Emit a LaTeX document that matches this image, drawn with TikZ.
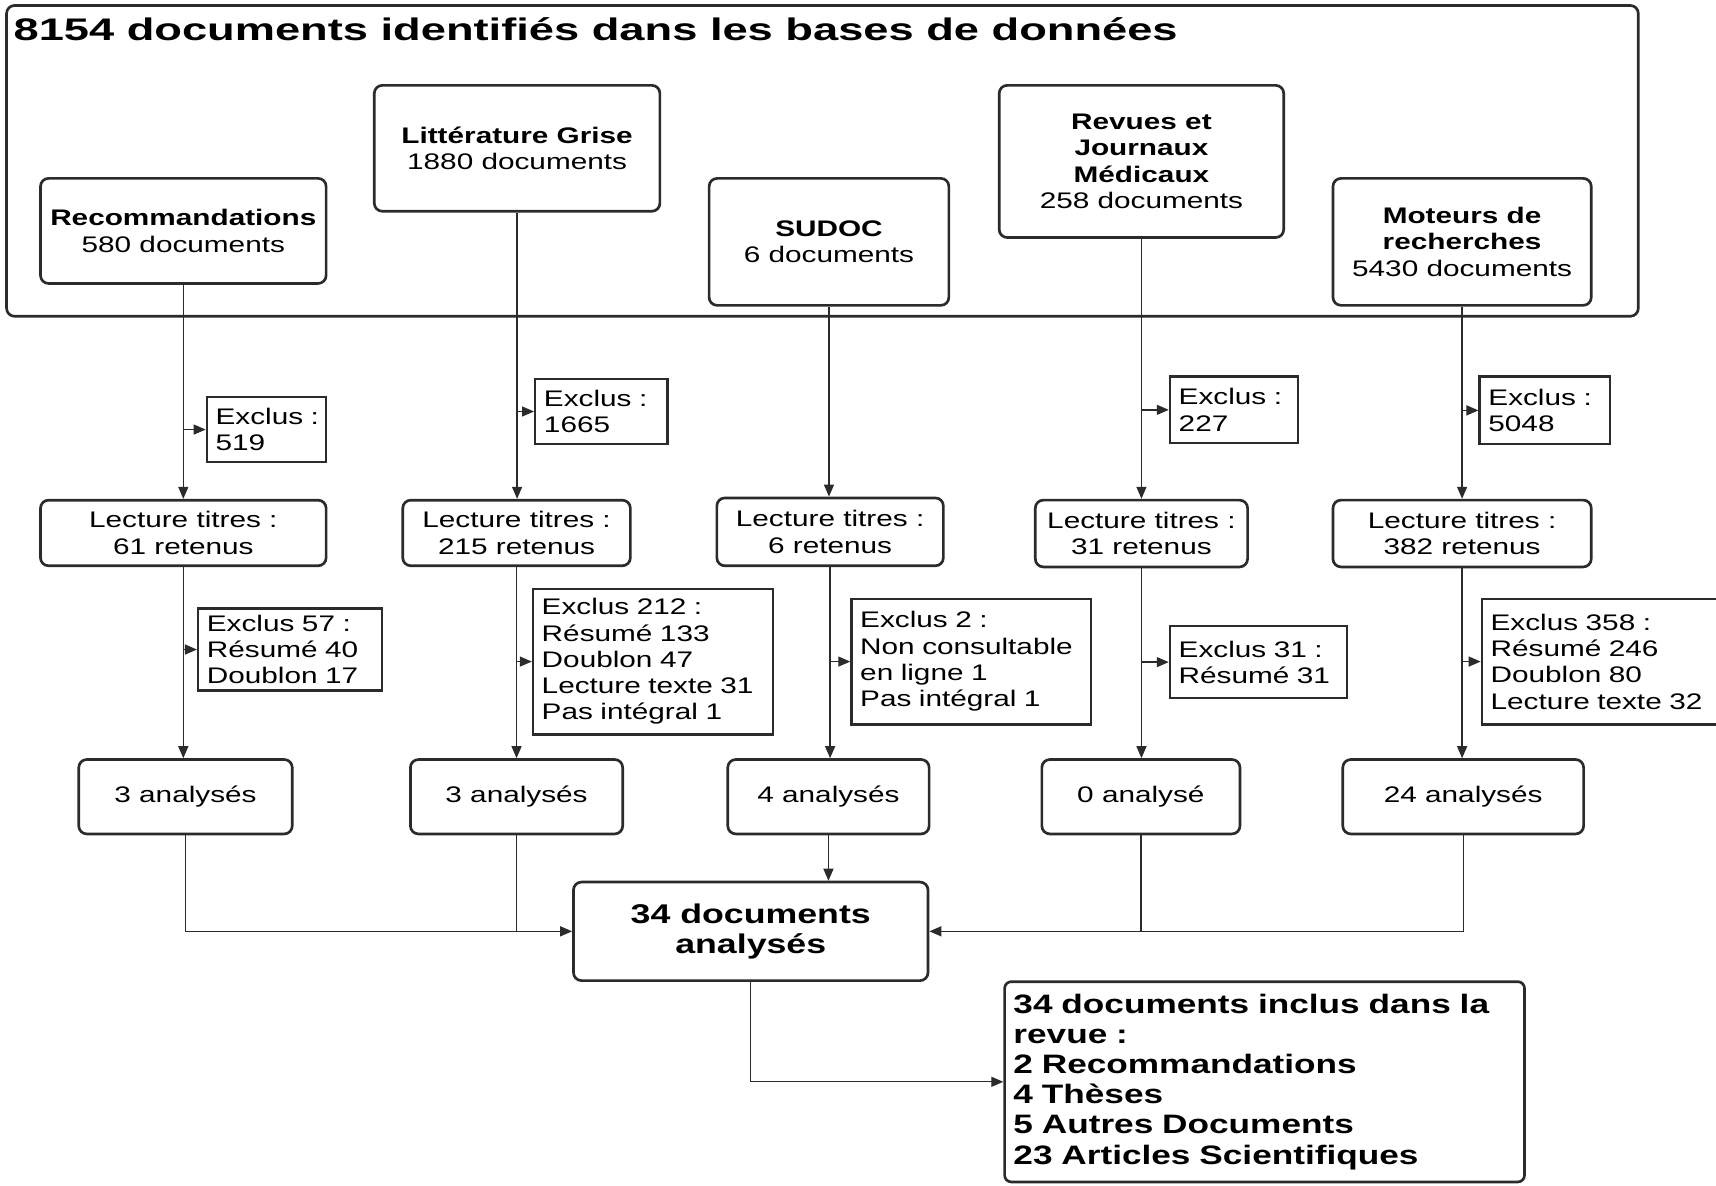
\documentclass[tikz,border=0pt]{standalone}
\usepackage{fontspec}
\setmainfont{Liberation Sans}[FakeStretch=1.32]
\newfontfamily\titrefont{Liberation Sans}[FakeStretch=1.45]
\usetikzlibrary{arrows.meta}

\definecolor{trait}{HTML}{2B2B2B}
\newcommand{\corps}{\fontsize{16.9}{19.7}\selectfont}

\tikzset{every picture/.style={line width=0.75pt}}
\tikzset{
  boite/.style={draw=trait, line width=2pt, rounded corners=6pt, align=center, inner sep=0pt, font=\corps},
  exclu/.style={draw=trait, line width=1.7pt, align=left, inner xsep=6.6pt, inner ysep=0pt, font=\corps},
  ligne/.style={draw=trait, line width=1pt},
  fleche/.style={ligne, -{Triangle[length=9pt,width=7.5pt]}}
}

\begin{document}
\begin{tikzpicture}[x=0.8208pt,y=0.8208pt,yscale=-1,xscale=1]
\useasboundingbox (0,0) rectangle (1568,1083);
\clip (0,0) rectangle (1568,1083);

%Outer box
\node [boite, minimum width=1223.8pt, minimum height=233.1pt] (bases) at (751.5,147) {};
% Text Node
\node [anchor=base west, inner sep=0pt, font=\titrefont\bfseries\fontsize{23.4}{26}\selectfont] (titre) at (12,37) {8154 documents identifiés dans les bases de données};

%Sources
\node [boite, minimum width=214.2pt, minimum height=78.8pt] (rec) at (167.5,211) {\textbf{Recommandations}\\580 documents};
\node [boite, minimum width=214.2pt, minimum height=94.4pt] (lit) at (472.5,135.5) {\textbf{Littérature Grise}\\1880 documents};
\node [boite, minimum width=179.8pt, minimum height=95.2pt] (sud) at (757.5,221) {\textbf{SUDOC}\\6 documents};
\node [boite, minimum width=213.4pt, minimum height=114.1pt] (rev) at (1043,147.5) {\textbf{Revues et}\\\textbf{Journaux}\\\textbf{Médicaux}\\258 documents};
\node [boite, minimum width=193.7pt, minimum height=95.2pt] (mot) at (1336,221) {\textbf{Moteurs de}\\\textbf{recherches}\\5430 documents};

%Exclus (titres)
\node [exclu, text width=76.3pt, minimum height=48.4pt] (exT1) at (243.5,392.5) {Exclus~:\\519};
\node [exclu, text width=86.1pt, minimum height=49.2pt] (exT2) at (549.5,376) {Exclus~:\\1665};
\node [exclu, text width=82.8pt, minimum height=50.1pt] (exT4) at (1127.5,374.5) {Exclus~:\\227};
\node [exclu, text width=84.5pt, minimum height=50.9pt] (exT5) at (1411.5,375) {Exclus~:\\5048};

%Lecture titres
\node [boite, minimum width=214.2pt, minimum height=49.2pt] (lec1) at (167.5,487) {Lecture titres~:\\61 retenus};
\node [boite, minimum width=170.7pt, minimum height=49.2pt] (lec2) at (472,487) {Lecture titres~:\\215 retenus};
\node [boite, minimum width=169.9pt, minimum height=50.9pt] (lec3) at (758.5,486) {Lecture titres~:\\6 retenus};
\node [boite, minimum width=159.2pt, minimum height=50.1pt] (lec4) at (1043,487.5) {Lecture titres~:\\31 retenus};
\node [boite, minimum width=193.7pt, minimum height=50.1pt] (lec5) at (1336,487.5) {Lecture titres~:\\382 retenus};

%Exclus (resumes)
\node [exclu, text width=124.7pt, minimum height=61.6pt] (exR1) at (265,593.5) {Exclus 57~:\\Résumé 40\\Doublon 17};
\node [exclu, text width=166.6pt, minimum height=109.2pt] (exR2) at (596.5,604.5) {Exclus 212~:\\Résumé 133\\Doublon 47\\Lecture texte 31\\Pas intégral 1};
\node [exclu, text width=166.6pt, minimum height=94.4pt] (exR3) at (887.5,604.5) {Exclus 2~:\\Non consultable\\en ligne 1\\Pas intégral 1\\[6pt]};
\node [exclu, text width=119.8pt, minimum height=54.2pt] (exR4) at (1150,605) {Exclus 31~:\\Résumé 31\\[6pt]};
\node [exclu, text width=192pt, minimum height=94.4pt] (exR5) at (1479,604.5) {Exclus 358~:\\Résumé 246\\Doublon 80\\Lecture texte 32\\[6pt]};

%Analyses
\node [boite, minimum width=160.1pt, minimum height=55.8pt] (an1) at (169.5,728) {3 analysés};
\node [boite, minimum width=159.2pt, minimum height=55.8pt] (an2) at (472,728) {3 analysés};
\node [boite, minimum width=151.0pt, minimum height=55.8pt] (an3) at (757,728) {4 analysés};
\node [boite, minimum width=148.6pt, minimum height=55.8pt] (an4) at (1042.5,728) {0 analysé};
\node [boite, minimum width=180.6pt, minimum height=55.8pt] (an5) at (1337,728) {24 analysés};

%Total
\node [boite, minimum width=265.9pt, minimum height=73.9pt, font=\bfseries\fontsize{20.3}{22.2}\selectfont] (cen) at (686,851) {34 documents\\analysés};
\node [boite, rounded corners=5pt, align=left, inner xsep=6.6pt, text width=376.7pt, minimum height=150.2pt, font=\bfseries\fontsize{20}{22.6}\selectfont] (fin) at (1155.5,988.5) {34 documents inclus dans la\\revue~:\\2 Recommandations\\4 Thèses\\5 Autres Documents\\23 Articles Scientifiques};

%Straight Lines
\draw [fleche] (rec.south) -- (rec.south |- lec1.north);
\draw [fleche] (rec.south |- exT1.west) -- (exT1.west);
\draw [fleche] (lit.south) -- (lit.south |- lec2.north);
\draw [fleche] (lit.south |- exT2.west) -- (exT2.west);
\draw [fleche] (sud.south) -- (sud.south |- lec3.north);
\draw [fleche] (rev.south) -- (rev.south |- lec4.north);
\draw [fleche] (rev.south |- exT4.west) -- (exT4.west);
\draw [fleche] (mot.south) -- (mot.south |- lec5.north);
\draw [fleche] (mot.south |- exT5.west) -- (exT5.west);

\draw [fleche] (lec1.south) -- (lec1.south |- an1.north);
\draw [fleche] (lec1.south |- exR1.west) -- (exR1.west);
\draw [fleche] (lec2.south) -- (lec2.south |- an2.north);
\draw [fleche] (lec2.south |- exR2.west) -- (exR2.west);
\draw [fleche] (lec3.south) -- (lec3.south |- an3.north);
\draw [fleche] (lec3.south |- exR3.west) -- (exR3.west);
\draw [fleche] (lec4.south) -- (lec4.south |- an4.north);
\draw [fleche] (lec4.south |- exR4.west) -- (exR4.west);
\draw [fleche] (lec5.south) -- (lec5.south |- an5.north);
\draw [fleche] (lec5.south |- exR5.west) -- (exR5.west);

\draw [fleche] (an1.south) |- (cen.west);
\draw [ligne] (an2.south) -- (an2.south |- cen.west);
\draw [fleche] (an3.south) -- (an3.south |- cen.north);
\draw [ligne] (an4.south) -- (an4.south |- cen.east);
\draw [fleche] (an5.south) |- (cen.east);
\draw [fleche] (cen.south) |- (fin.west);

\end{tikzpicture}
\end{document}
